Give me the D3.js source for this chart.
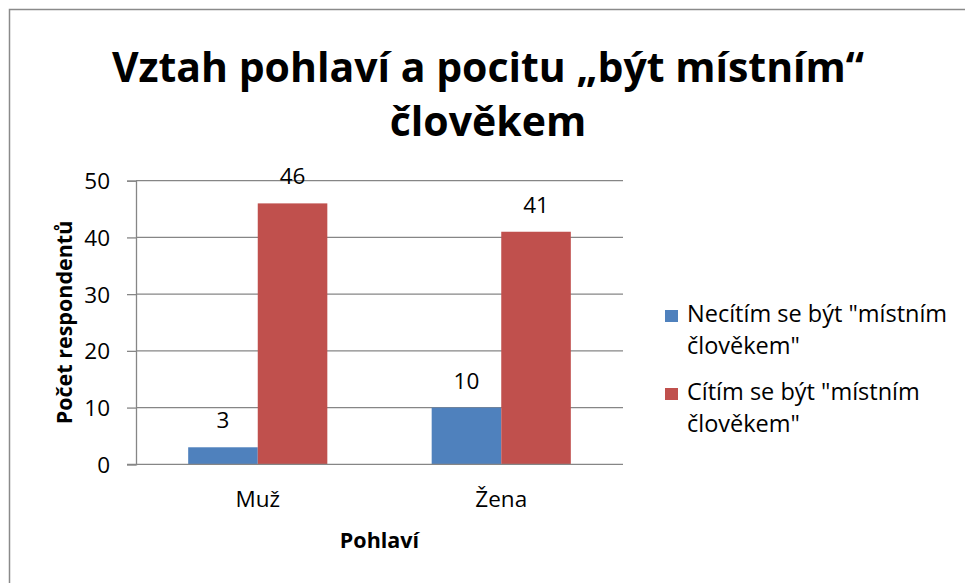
<!DOCTYPE html>
<html>
<head>
<meta charset="utf-8">
<script src="https://cdn.jsdelivr.net/npm/d3@7"></script>
<style>
  html, body { margin: 0; padding: 0; background: #fff; }
  text { font-family: "Open Sans", sans-serif; fill: #000; }
</style>
</head>
<body>
<svg id="chart" width="965" height="583"></svg>
<script>
const categories = ["Muž", "Žena"];
const seriesNames = ["Necítím se být \"místním člověkem\"", "Cítím se být \"místním člověkem\""];
const seriesLegendLines = [["Necítím se být \"místním", "člověkem\""], ["Cítím se být \"místním", "člověkem\""]];
const seriesNotLocal = [3, 10];
const seriesLocal = [46, 41];
const yTicks = [0, 10, 20, 30, 40, 50];
const titleLines = ["Vztah pohlaví a pocitu „být místním“", "člověkem"];
const yAxisTitle = "Počet respondentů";
const xAxisTitle = "Pohlaví";
const colors = ["#4F81BD", "#C0504D"];

const FONT = "\"Open Sans\", sans-serif";
const FS = 22.5;
const svg = d3.select("#chart");

// outer border (extends beyond view on right/bottom)
svg.append("rect").attr("x", 9.5).attr("y", 9.5).attr("width", 970).attr("height", 590)
  .attr("fill", "none").attr("stroke", "#8a8a8a").attr("stroke-width", 1.5);

const plot = { left: 136, right: 623, top: 180.7, bottom: 464.3 };

const x0 = d3.scaleBand().domain(categories).range([plot.left, plot.right]).padding(0);
const x1 = d3.scaleBand().domain([0, 1]).range([0, x0.bandwidth()]).paddingInner(0).paddingOuter(0.75);
const y = d3.scaleLinear().domain([0, 50]).range([plot.bottom, plot.top]);

// gridlines
svg.append("g").selectAll("line").data(yTicks.filter(d => d > 0)).join("line")
  .attr("x1", plot.left).attr("x2", plot.right)
  .attr("y1", d => y(d)).attr("y2", d => y(d))
  .attr("stroke", "#868686").attr("stroke-width", 1.3);

// y axis
const yAxis = svg.append("g").attr("transform", `translate(${plot.left},0)`)
  .call(d3.axisLeft(y).tickValues(yTicks).tickSize(9).tickPadding(17).tickFormat(d3.format("d")));
yAxis.select(".domain").attr("stroke", "#868686").attr("stroke-width", 1.3);
yAxis.selectAll(".tick line").attr("stroke", "#868686").attr("stroke-width", 1.3);
yAxis.selectAll(".tick text").attr("font-size", FS).attr("font-family", FONT).attr("fill", "#000").attr("dy", "0.36em");

// bars
const data = categories.map((c, i) => ({ cat: c, vals: [seriesNotLocal[i], seriesLocal[i]] }));
const groups = svg.append("g").selectAll("g").data(data).join("g")
  .attr("transform", d => `translate(${x0(d.cat)},0)`);
groups.selectAll("rect").data(d => d.vals.map((v, s) => ({ v, s }))).join("rect")
  .attr("x", d => x1(d.s)).attr("width", x1.bandwidth())
  .attr("y", d => y(d.v)).attr("height", d => y(0) - y(d.v))
  .attr("fill", d => colors[d.s]);
groups.selectAll("text").data(d => d.vals.map((v, s) => ({ v, s }))).join("text")
  .attr("x", d => x1(d.s) + x1.bandwidth() / 2).attr("y", d => y(d.v) - 19)
  .attr("text-anchor", "middle").attr("font-size", FS).text(d => d.v);

// x axis
const xAxis = svg.append("g").attr("transform", `translate(0,${plot.bottom})`)
  .call(d3.axisBottom(x0).tickSize(0).tickPadding(18));
xAxis.select(".domain").remove();
svg.append("line").attr("x1", plot.left - 9).attr("x2", plot.right)
  .attr("y1", plot.bottom).attr("y2", plot.bottom)
  .attr("stroke", "#868686").attr("stroke-width", 1.3);
xAxis.selectAll(".tick text").attr("font-size", FS).attr("font-family", FONT).attr("fill", "#000")
  .attr("dy", null).attr("y", 43);

// titles
const title = svg.append("text").attr("text-anchor", "middle").attr("font-weight", "bold").attr("font-size", 41);
title.selectAll("tspan").data(titleLines).join("tspan")
  .attr("x", 488).attr("y", (d, i) => 82 + i * 54).text(d => d);

svg.append("text").attr("transform", `translate(72,${(plot.top + plot.bottom) / 2}) rotate(-90)`)
  .attr("text-anchor", "middle").attr("font-weight", "bold").attr("font-size", 21.5).text(yAxisTitle);
svg.append("text").attr("x", (plot.left + plot.right) / 2).attr("y", 548)
  .attr("text-anchor", "middle").attr("font-weight", "bold").attr("font-size", 21.5).text(xAxisTitle);

// legend
const legend = svg.append("g");
const entryY = [322, 400];
seriesLegendLines.forEach((lines, s) => {
  legend.append("rect").attr("x", 665).attr("y", entryY[s] - 12).attr("width", 13).attr("height", 12).attr("fill", colors[s]);
  const t = legend.append("text").attr("font-size", 23.5);
  t.selectAll("tspan").data(lines).join("tspan")
    .attr("x", 687).attr("y", (d, i) => entryY[s] + i * 32).text(d => d);
});
</script>
</body>
</html>
